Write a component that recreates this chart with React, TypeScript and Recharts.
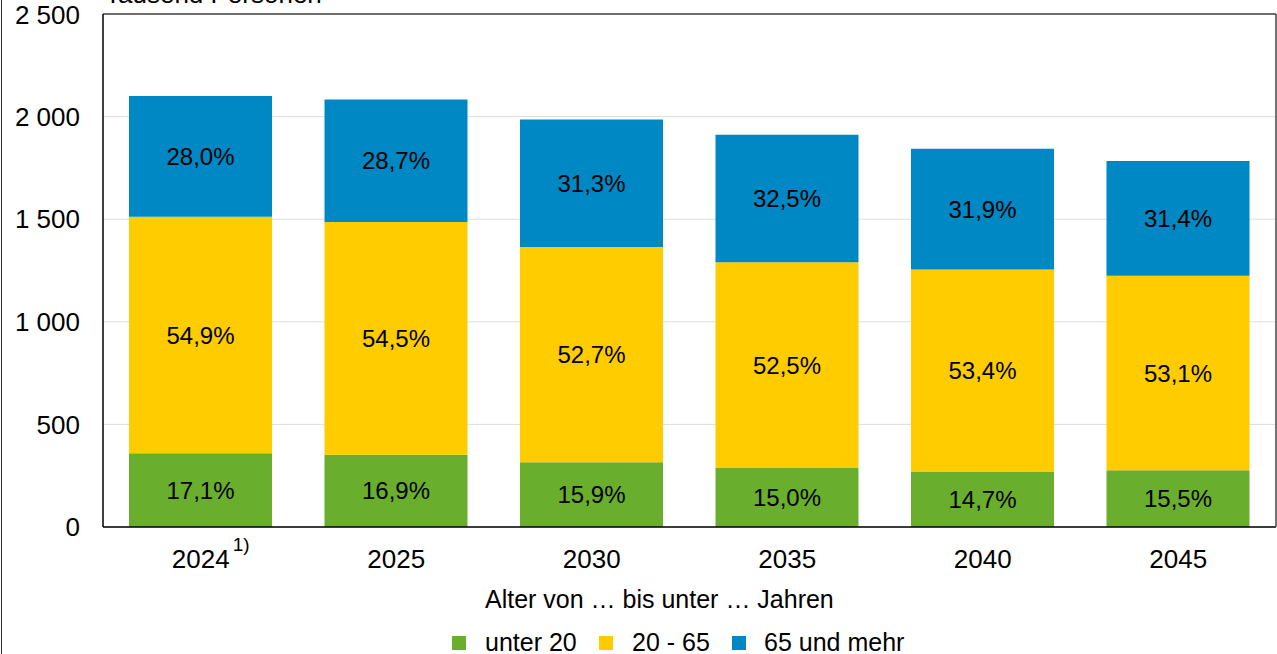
import React from 'react';
import { BarChart, Bar, XAxis, YAxis, CartesianGrid, LabelList, Legend } from 'recharts';

const years = ['2024', '2025', '2030', '2035', '2040', '2045'];
const unter20 = [359, 352, 316, 287, 271, 277];
const mitte = [1153, 1134, 1048, 1003, 984, 947];
const ueber65 = [588, 597, 622, 621, 588, 560];
const pctUnter20 = [17.1, 16.9, 15.9, 15.0, 14.7, 15.5];
const pctMitte = [54.9, 54.5, 52.7, 52.5, 53.4, 53.1];
const pctUeber65 = [28.0, 28.7, 31.3, 32.5, 31.9, 31.4];
const yTicks = [0, 500, 1000, 1500, 2000, 2500];
const footnoteYear = '2024';

const data = years.map((y, i) => ({
  year: y,
  u20: unter20[i],
  m: mitte[i],
  o65: ueber65[i],
  pu20: pctUnter20[i],
  pm: pctMitte[i],
  po65: pctUeber65[i],
}));

const GREEN = '#6aae2e';
const YELLOW = '#ffcc00';
const BLUE = '#0088c4';
const FONT = '"Liberation Sans", Arial, sans-serif';

const fmtPct = (v: any) => Number(v).toFixed(1).replace('.', ',') + '%';
const fmtThousand = (v: any) => String(v).replace(/\B(?=(\d{3})+(?!\d))/g, ' ');

const XTick = (props: any) => {
  const { x, y, payload } = props;
  return (
    <g>
      <text x={x} y={y + 41} textAnchor="middle" fontSize={26} fill="#000" fontFamily={FONT}>
        {payload.value}
      </text>
      {payload.value === footnoteYear && (
        <text x={x + 32} y={y + 24} textAnchor="start" fontSize={19} fill="#000" fontFamily={FONT}>
          1)
        </text>
      )}
    </g>
  );
};

const legendItems = [
  { label: 'unter 20', color: GREEN, sq: 452, tx: 485 },
  { label: '20 - 65', color: YELLOW, sq: 599, tx: 632 },
  { label: '65 und mehr', color: BLUE, sq: 732, tx: 764 },
];

const LegendContent = () => (
  <div style={{ position: 'relative', width: 1277, height: 80, fontFamily: FONT, fontSize: 25, color: '#000', lineHeight: '25px' }}>
    <div style={{ position: 'absolute', left: 485, top: 12, whiteSpace: 'nowrap' }}>Alter von … bis unter … Jahren</div>
    {legendItems.map((it, i) => (
      <React.Fragment key={i}>
        <span style={{ position: 'absolute', left: it.sq, top: 61, width: 14, height: 14, background: it.color }} />
        <span style={{ position: 'absolute', left: it.tx, top: 55, whiteSpace: 'nowrap' }}>{it.label}</span>
      </React.Fragment>
    ))}
  </div>
);

export default function App() {
  return (
    <div style={{ position: 'absolute', left: 0, top: 0, width: 1277, height: 654, overflow: 'hidden', background: '#fff' }}>
      <div style={{ position: 'absolute', left: 1, top: 0, width: 1, height: 654, background: '#333' }} />
      <svg style={{ position: 'absolute', left: 0, top: 0 }} width={1277} height={20}>
        <text x={105} y={3} fontSize={26} fontFamily={FONT} fill="#000">Tausend Personen</text>
      </svg>
      <BarChart
        width={1277}
        height={654}
        data={data}
        margin={{ top: 13, right: 0, bottom: 67, left: 0 }}
        style={{ position: 'absolute', left: 0, top: 0 }}
      >
        <CartesianGrid vertical={false} stroke="#dedede" strokeWidth={1} />
        <XAxis
          dataKey="year"
          axisLine={{ stroke: '#000', strokeWidth: 1.5 }}
          tickLine={false}
          tickSize={0}
          tickMargin={0}
          tick={<XTick />}
          height={60}
          interval={0}
        />
        <XAxis xAxisId="top" orientation="top" dataKey="year" axisLine={{ stroke: '#444', strokeWidth: 1.5 }} tick={false} tickLine={false} height={1} />
        <YAxis
          domain={[0, 2500]}
          ticks={yTicks}
          tickFormatter={fmtThousand}
          axisLine={{ stroke: '#000', strokeWidth: 1.5 }}
          tickLine={false}
          tickSize={0}
          tickMargin={23}
          width={103}
          tick={{ fontSize: 26, fill: '#000', fontFamily: FONT }}
        />
        <YAxis yAxisId="right" orientation="right" domain={[0, 2500]} axisLine={{ stroke: '#444', strokeWidth: 1.5 }} tick={false} tickLine={false} width={1} />
        <Legend content={<LegendContent />} verticalAlign="middle" wrapperStyle={{ left: 0, top: 575, width: 1277, height: 80 }} />
        <Bar dataKey="u20" stackId="a" fill={GREEN} barSize={143} isAnimationActive={false} legendType="square">
          <LabelList dataKey="pu20" position="center" formatter={fmtPct} fill="#000" fontSize={24} fontFamily={FONT} />
        </Bar>
        <Bar dataKey="m" stackId="a" fill={YELLOW} barSize={143} isAnimationActive={false} legendType="square">
          <LabelList dataKey="pm" position="center" formatter={fmtPct} fill="#000" fontSize={24} fontFamily={FONT} />
        </Bar>
        <Bar dataKey="o65" stackId="a" fill={BLUE} barSize={143} isAnimationActive={false} legendType="square">
          <LabelList dataKey="po65" position="center" formatter={fmtPct} fill="#000" fontSize={24} fontFamily={FONT} />
        </Bar>
      </BarChart>
    </div>
  );
}
